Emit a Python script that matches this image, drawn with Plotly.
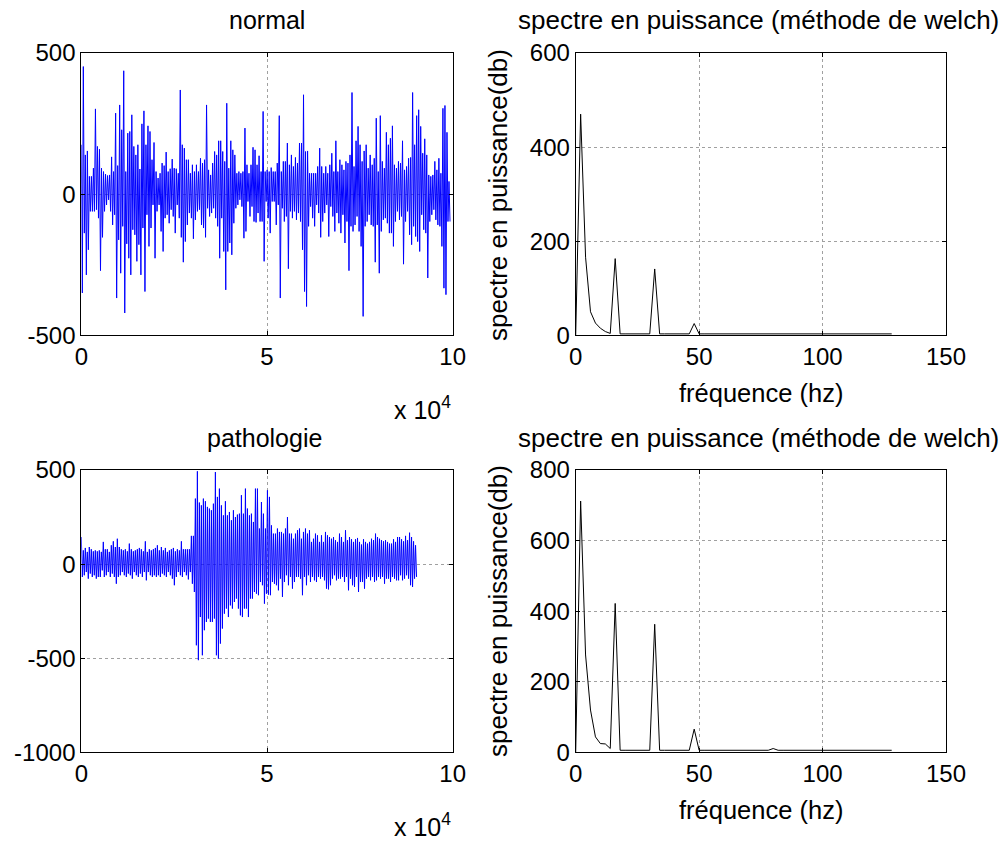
import numpy as np
import plotly.graph_objects as go

# ---------------- data ----------------
normal_len = 99000          # last sample of the "normal" signal
normal_top = [175, 452, 139, 153, 63, 63, 92, 302, 169, 159,
              92, 80, 71, 66, 68, 132, 80, 287, 101, 316,
              228, 437, 80, 216, 222, 281, 169, 139, 175, 89,
              249, 295, 175, 242, 222, 122, 183, 80, 57, 74,
              110, 101, 149, 80, 90, 124, 92, 90, 74, 369,
              175, 163, 122, 122, 74, 104, 80, 104, 80, 127, 110,
              122, 316, 86, 68, 110, 151, 139, 189, 189, 151,
              116, 322, 92, 189, 157, 139, 74, 80, 74, 80,
              234, 104, 74, 104, 166, 157, 104, 136, 80, 293,
              80, 86, 80, 94, 80, 80, 110, 278, 80, 116,
              116, 181, 104, 139, 98, 130, 110, 181, 181, 352,
              151, 153, 74, 74, 74, 74, 98, 163, 98, 74, 98,
              74, 104, 145, 80, 189, 80, 122, 104, 86, 116,
              110, 139, 360, 98, 189, 240, 175, 116, 153, 175,
              92, 139, 104, 127, 269, 80, 278, 116, 92, 219,
              175, 198, 242, 104, 92, 116, 110, 189, 86, 98,
              127, 130, 360, 175, 278, 299, 240, 145, 196, 139,
              68, 63, 68, 116, 86, 127, 74, 304, 314, 219, 45]
normal_bot = [-350, -138, -286, -197, -61, -61, -61, -55, -85, -271,
              -153, -61, -38, -20, -61, -109, -73, -368, -162, -280,
              -114, -421, -176, -227, -286, -126, -144, -238, -179, -286,
              -120, -345, -73, -185, -120, -38, -227, -61, -38, -132,
              -203, -85, -73, -103, -55, -79, -138, -38, -85, -153,
              -241, -168, -109, -67, -85, -158, -91, -61, -55, -109, -120,
              -153, -50, -79, -67, -50, -85, -114, -227, -85, -203,
              -339, -203, -173, -215, -103, -50, -38, -20, -44, -156,
              -132, -26, -79, -44, -97, -100, -67, -97, -97, -238,
              -26, -85, -138, -26, -26, -109, -38, -368, -50, -97,
              -79, -264, -61, -85, -61, -91, -67, -97, -197, -345,
              -398, -114, -44, -85, -114, -38, -67, -153, -97, -67, -38,
              -150, -44, -79, -132, -67, -103, -138, -73, -173, -97,
              -271, -114, -132, -109, -79, -132, -185, -433, -114, -97,
              -73, -109, -114, -241, -109, -280, -132, -91, -85, -103,
              -138, -138, -185, -97, -61, -91, -79, -248, -97, -61,
              -144, -179, -114, -150, -168, -203, -73, -126, -138, -297,
              -97, -73, -55, -91, -109, -114, -185, -333, -356, -97, -97]

patho_len = 90000           # last sample of the "pathologie" signal
patho_top = [144, 73, 86, 65, 91, 79, 68, 73, 68, 73,
             65, 118, 79, 79, 65, 100, 121, 91, 135, 91,
             79, 73, 79, 68, 109, 79, 68, 73, 79, 86,
             79, 68, 121, 65, 79, 73, 79, 86, 100, 73,
             91, 73, 86, 65, 73, 79, 86, 68, 79, 73,
             121, 79, 79, 79, 79, 150, 150, 348, 493, 327,
             312, 348, 334, 304,
             295, 286, 321, 489, 357, 401,
             312, 259, 334, 259, 277, 233, 286, 250, 263, 268,
             366, 268, 401, 295, 259, 268, 224, 401, 401, 189,
             330, 268, 189, 392, 357, 206, 162, 162, 189, 171,
             171, 162, 189, 250, 162, 162, 135, 162, 180, 189,
             135, 171, 189, 162, 180, 118, 135, 162, 153, 118,
             153, 118, 171, 153, 144,
             135, 144, 127, 118, 162, 144, 118, 180, 127, 144,
             132, 118, 132, 139, 118, 104, 132, 118, 109, 118,
             135, 127, 162, 144, 135, 127, 121, 127, 118, 109,
             109, 132, 118, 144, 144, 132, 121, 150, 127, 167, 144, 121, 100]
patho_bot = [-68, -59, -42, -77, -50, -68, -59, -77, -68, -68,
             -33, -68, -59, -42, -68, -50, -68, -104, -68, -59,
             -42, -59, -68, -50, -59, -77, -42, -59, -68, -50,
             -68, -42, -86, -42, -59, -68, -59, -68, -59, -68,
             -50, -59, -68, -42, -59, -77, -112, -68, -42, -59,
             -68, -42, -59, -81, -42, -104, -148, -431, -510, -281,
             -484, -351, -307, -289,
             -307, -307, -289, -484, -502, -422,
             -342, -263, -236, -281, -219, -236, -201, -183, -236, -272,
             -281, -236, -236, -281, -183, -183, -148, -157, -165, -95,
             -112, -210, -157, -162, -165, -95, -104, -112, -139, -77,
             -174, -95, -59, -112, -68, -130, -95, -68, -68, -77,
             -165, -68, -112, -59, -95, -68, -86, -95, -68, -77,
             -68, -86, -130, -134, -112,
             -77, -59, -86, -77, -77, -68, -95, -68, -139, -77,
             -112, -121, -68, -148, -95, -95, -130, -77, -68, -86,
             -68, -95, -86, -68, -77, -68, -104, -77, -77, -95,
             -68, -77, -86, -86, -59, -86, -77, -59, -77, -112, -121, -77, -68]

freq = [0, 2, 4, 6, 8, 10, 12, 14, 16, 18, 20, 22, 24, 26, 28, 30, 32,
        34, 36, 38, 40, 42, 44, 46, 48, 50, 52, 54, 56, 58, 60, 62, 64,
        66, 68, 70, 72, 74, 76, 78, 80, 82, 84, 86, 88, 90, 92, 94, 96,
        98, 100, 102, 104, 106, 108, 110, 112, 114, 116, 118, 120, 122,
        124, 126, 128]
psd_normal = [0, 470, 166, 50, 26, 15, 8, 4, 163, 3, 3, 3, 3, 3, 3, 3, 141,
              3, 3, 3, 3, 3, 3, 3, 25, 3, 3, 3, 3, 3, 3, 3, 3,
              3, 3, 3, 3, 3, 3, 3, 3, 3, 3, 3, 3, 3, 3, 3, 3,
              3, 3, 3, 3, 3, 3, 3, 3, 3, 3, 3, 3, 3, 3, 3, 3]
psd_patho = [0, 712, 276, 120, 44, 25, 24, 11, 422, 6, 6, 6, 6, 6, 6, 6, 363,
             6, 6, 6, 6, 6, 6, 6, 66, 6, 6, 6, 6, 6, 6, 6, 6,
             6, 6, 6, 6, 6, 6, 6, 11, 6, 6, 6, 6, 6, 6, 6, 6,
             6, 6, 6, 6, 6, 6, 6, 6, 6, 6, 6, 6, 6, 6, 6, 6]

sig_xticks = [0, 50000, 100000]
sig_xlabels = ["0", "5", "10"]
f_xticks = [0, 50, 100, 150]
y1_ticks = [-500, 0, 500]
y2_ticks = [0, 200, 400, 600]
y3_ticks = [-1000, -500, 0, 500]
y4_ticks = [0, 200, 400, 600, 800]

# ---------------- helpers ----------------
W, H = 1003, 841
FONT = "Liberation Sans, Arial, Helvetica, sans-serif"


def px_x(p):
    return p / W


def px_y(p):
    return 1 - p / H


def spikes(top, bot, length):
    n = len(top)
    pos = np.linspace(0, length, n)
    step = length / (n - 1)
    xs, ys = [], []
    for i in range(n):
        xs += [pos[i], pos[i] + step * 0.5]
        ys += [top[i], bot[i]]
    return xs, ys


def lab(vals):
    return [str(v) for v in vals]   # plain hyphen minus, as in the reference


fig = go.Figure()

xs, ys = spikes(normal_top, normal_bot, normal_len)
fig.add_trace(go.Scatter(x=xs, y=ys, mode="lines", line=dict(color="#0000ff", width=1),
                         xaxis="x", yaxis="y", showlegend=False))
fig.add_trace(go.Scatter(x=freq, y=psd_normal, mode="lines", line=dict(color="black", width=1),
                         xaxis="x2", yaxis="y2", showlegend=False))
xs, ys = spikes(patho_top, patho_bot, patho_len)
fig.add_trace(go.Scatter(x=xs, y=ys, mode="lines", line=dict(color="#0000ff", width=1),
                         xaxis="x3", yaxis="y3", showlegend=False))
fig.add_trace(go.Scatter(x=freq, y=psd_patho, mode="lines", line=dict(color="black", width=1),
                         xaxis="x4", yaxis="y4", showlegend=False))

left_dom = [px_x(81.3), px_x(452.7)]
right_dom = [px_x(575.7), px_x(946)]
top_dom = [px_y(335.3), px_y(53)]
bot_dom = [px_y(752.4), px_y(470)]

common = dict(showline=True, linecolor="black", linewidth=1, mirror="ticks",
              ticks="inside", ticklen=4, tickcolor="black",
              showgrid=True, gridcolor="#a0a0a0", griddash="dot", gridwidth=1,
              zeroline=False, tickfont=dict(family=FONT, size=24, color="black"),
              fixedrange=True, automargin=False, tickmode="array")

fig.update_layout(
    width=W, height=H, margin=dict(l=0, r=0, t=0, b=0, autoexpand=False),
    paper_bgcolor="white", plot_bgcolor="white",
    xaxis=dict(domain=left_dom, anchor="y", range=[0, 100000], tickvals=sig_xticks,
               ticktext=sig_xlabels, **common),
    yaxis=dict(domain=top_dom, anchor="x", range=[-500, 500], tickvals=y1_ticks,
               ticktext=lab(y1_ticks), **common),
    xaxis2=dict(domain=right_dom, anchor="y2", range=[0, 150], tickvals=f_xticks,
                ticktext=lab(f_xticks), **common),
    yaxis2=dict(domain=top_dom, anchor="x2", range=[0, 600], tickvals=y2_ticks,
                ticktext=lab(y2_ticks), **common),
    xaxis3=dict(domain=left_dom, anchor="y3", range=[0, 100000], tickvals=sig_xticks,
                ticktext=sig_xlabels, **common),
    yaxis3=dict(domain=bot_dom, anchor="x3", range=[-1000, 500], tickvals=y3_ticks,
                ticktext=lab(y3_ticks), **common),
    xaxis4=dict(domain=right_dom, anchor="y4", range=[0, 150], tickvals=f_xticks,
                ticktext=lab(f_xticks), **common),
    yaxis4=dict(domain=bot_dom, anchor="x4", range=[0, 800], tickvals=y4_ticks,
                ticktext=lab(y4_ticks), **common),
)

ann = []


def text(x, y, s, size=25, angle=0, xanchor="center", yanchor="middle"):
    ann.append(dict(x=px_x(x), y=px_y(y), xref="paper", yref="paper", text=s,
                    showarrow=False, textangle=angle, xanchor=xanchor, yanchor=yanchor,
                    font=dict(family=FONT, size=size, color="black")))


text(267, 20, "normal", size=25)
text(264, 438, "pathologie", size=25)
text(516, 20, "spectre en puissance (méthode de welch)", size=26, xanchor="left")
text(516, 438, "spectre en puissance (méthode de welch)", size=26, xanchor="left")
text(761, 393, "fréquence (hz)", size=25.5)
text(761, 810, "fréquence (hz)", size=25.5)
text(498, 195, "spectre en puissance(db)", size=26, angle=-90)
text(498, 611, "spectre en puissance(db)", size=26, angle=-90)
text(392, 408, "x 10<sup>4</sup>", xanchor="left")
text(392, 825, "x 10<sup>4</sup>", xanchor="left")

fig.update_layout(annotations=ann)
fig.write_html("out.html", config={"displayModeBar": False})

# remove the browser's default 8px page margin so the figure sits at (0,0)
with open("out.html", "r", encoding="utf-8") as fh:
    page = fh.read()
page = page.replace("<head>", "<head><style>html,body{margin:0;padding:0;overflow:hidden;}</style>", 1)
with open("out.html", "w", encoding="utf-8") as fh:
    fh.write(page)
